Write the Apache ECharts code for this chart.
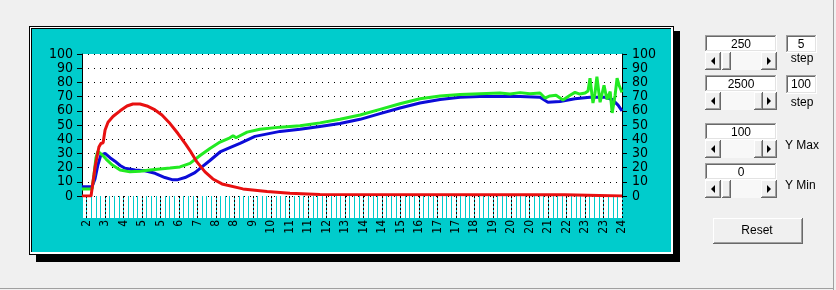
<!DOCTYPE html>
<html><head><meta charset="utf-8">
<script src="https://cdn.jsdelivr.net/npm/echarts@6/dist/echarts.min.js"></script>
<style>html,body{margin:0;padding:0;background:#f0f0f0}#c{width:836px;height:290px}</style>
</head><body><div id="c"></div>
<script>
// ---- data ----
const xLabels = ['2','3','4','5','5','6','7','8','8','9','10','11','11','12','13','14','14','15','16','17','17','18','19','20','20','21','22','23','23','24'];
const yTicks = [0,10,20,30,40,50,60,70,80,90,100];

const redT = [2.06,2.43,2.51,2.59,2.67,2.75,2.83,2.92,3.00,3.12,3.32,3.61,3.89,4.13,4.42,4.70,5.03,5.31,5.64,5.96,6.25,6.45,6.73,7.06,7.38,7.75,8.60,9.58,10.51,11.73,21.68,21.73,24.00];
const redV = [0,0,10,20,27.5,34.5,37,37.5,46.5,52,56,60,63.4,64.8,64.8,63.4,60.6,57,51,44,37,32,24,17,12,8.5,5,3.2,2,1,0.8,0,0];

const blueT = [2.06,2.47,2.59,2.71,2.83,3.00,3.20,3.40,3.61,3.81,4.22,4.62,5.03,5.43,5.72,5.96,6.25,6.65,6.86,7.26,7.67,8.07,8.48,9.09,10.11,10.92,11.73,12.54,13.36,14.17,14.98,15.79,16.61,17.42,18.23,19.04,19.86,20.67,20.99,21.48,22.09,22.70,23.31,23.60,23.84,24.00];
const blueV = [6.5,6.5,12,22,29,30,27,24.5,21.5,19.5,18.3,17.8,16,13,11.5,11.5,13,16.5,19.5,25,31,34,37,42,45.5,47,49,51,54,58,62,65.5,68,69.5,70,70,70,69.5,66,66.5,68.5,69.5,69.5,68,64,60];

const greenT = [2.06,2.47,2.55,2.63,2.71,2.88,3.04,3.28,3.61,4.01,4.42,4.82,5.23,5.64,6.04,6.45,6.86,7.26,7.67,8.07,8.20,8.32,8.77,9.29,10.11,10.92,11.73,12.54,13.36,14.17,14.98,15.79,16.61,17.42,18.23,19.04,19.45,19.86,20.26,20.67,20.87,21.07,21.32,21.60,21.89,22.09,22.29,22.50,22.62,22.70,22.82,22.90,22.98,23.11,23.19,23.27,23.39,23.52,23.60,23.72,23.80,23.88,24.00];
const greenV = [5,5,15,27,31.5,29,26,22,18.3,17,17.5,18.3,19,19.7,20.5,23,28.5,33.5,38,41,42.5,41,45,47,48.5,49.5,51.5,54,57,61,65,68.5,70.5,71.5,72,72.5,71.8,72.8,72,72.5,69,70.5,71,67.6,71,73,71.8,72.5,74,83,65.5,72,84,66,72,78,68,73.5,58.5,71,83,78,73];

// controls text
const ctrlValues = ['250','2500','100','0'];
const stepValues = ['5','100'];

// ---- build ----
const zip = (t,v) => t.map((x,i)=>[x,v[i]]);
const TICKS_PER_LABEL = 4;
const tickCats = [], tickLabelAt = [];
tickCats.push('t0'); tickLabelAt.push('');
xLabels.forEach((l,i)=>{
  tickCats.push('t'+tickCats.length); tickLabelAt.push(l);
  if (i < xLabels.length-1) for (let k=0;k<TICKS_PER_LABEL-1;k++){ tickCats.push('t'+tickCats.length); tickLabelAt.push(''); }
});

const CYAN = '#00cccc';
const G = [];
function rect(x,y,w,h,fill,z){ G.push({type:'rect',shape:{x:x,y:y,width:w,height:h},style:{fill:fill},z:(z===undefined?-10:z),silent:true}); }
function text(t,x,y,align,font){ G.push({type:'text',z:5,silent:true,style:{text:t,x:x,y:y,fill:'#000',font:font||'12px "Liberation Sans", Arial, sans-serif',align:align||'center',verticalAlign:'middle',textAlign:align||'center',textVerticalAlign:'middle'}}); }
function tri(cx,cy,dir){ const p = dir<0 ? [[cx+2,cy-4],[cx+2,cy+4],[cx-2,cy]] : [[cx-2,cy-4],[cx-2,cy+4],[cx+2,cy]]; G.push({type:'polygon',shape:{points:p},style:{fill:'#000'},z:5,silent:true}); }
function raised(x,y,w,h){ rect(x,y,w,h,'#696969',1); rect(x,y,w-1,h-1,'#ffffff',1); rect(x+1,y+1,w-2,h-2,'#a0a0a0',1); rect(x+1,y+1,w-3,h-3,'#f0f0f0',1); }
function sunken(x,y,w,h){ rect(x,y,w,h,'#ffffff',1); rect(x,y,w-1,1,'#a0a0a0',2); rect(x,y,1,h-1,'#a0a0a0',2); rect(x+1,y+1,w-3,1,'#696969',2); rect(x+1,y+1,1,h-3,'#696969',2); rect(x+1,y+h-2,w-2,1,'#e3e3e3',2); rect(x+w-2,y+1,1,h-2,'#e3e3e3',2); }
function scroll(x,y,w,h,thumbX){ rect(x,y,w,h,'#f8f8f8',1); raised(x,y,16,h); raised(x+w-16,y,16,h); raised(thumbX,y,9,h); tri(x+8,y+h/2,-1); tri(x+w-8,y+h/2,1); }

// window / panel
rect(0,0,836,290,'#f0f0f0',-20);
rect(833,0,1,290,'#a0a0a0',-19);
rect(0,288,834,1,'#a0a0a0',-19);
rect(36,31,644,231,'#000000',-15);
rect(29,26,645,229,'#000000',-14);
rect(30,27,643,227,'#ffffff',-13);
rect(31,28,640,224,'#000000',-12);
rect(32,29,639,223,CYAN,-11);
rect(82,196,540,22,'#ffffff',-5);

// controls
const rows = [35,75,123,163];
const thumbs = [722,754,754,722];
rows.forEach((y,i)=>{
  sunken(705,y,72,17);
  scroll(705,y+17,72,18,thumbs[i]);
  text(ctrlValues[i],741,y+10);
});
sunken(786,35,31,18); text(stepValues[0],801,45); text('step',802,59);
sunken(786,75,31,19); text(stepValues[1],801,85); text('step',802,103);
text('Y Max',785,146,'left'); text('Y Min',785,186,'left');
raised(713,218,90,26); text('Reset',757,231);

const yFont = {fontFamily:'"Liberation Sans Narrow","Arial Narrow","DejaVu Sans Condensed",sans-serif',fontSize:14,color:'#000'};

const chart = echarts.init(document.getElementById('c'), null, {renderer:'canvas'});
chart.setOption({
  animation:false,
  backgroundColor:'transparent',
  graphic:{elements:G},
  grid:{left:82,top:54,right:214,bottom:94,show:true,backgroundColor:'#ffffff',borderWidth:0},
  xAxis:[
    {type:'value',min:2.0625,max:24.0,show:false},
    {type:'category',data:tickCats,boundaryGap:false,position:'bottom',
      axisLine:{show:false},
      axisTick:{show:true,interval:0,length:22,lineStyle:{color:CYAN,width:1}},
      axisLabel:{show:true,interval:0,rotate:90,margin:24,fontSize:12,color:'#000',
        fontFamily:'"Liberation Sans Narrow","Arial Narrow","DejaVu Sans Condensed",sans-serif',
        formatter:(v,idx)=>tickLabelAt[idx]||''},
      splitLine:{show:false}},
    {type:'category',data:tickCats,boundaryGap:false,position:'bottom',
      axisLine:{show:false},
      axisTick:{show:true,interval:(idx)=>tickLabelAt[idx]!=='',length:22,lineStyle:{color:'#000',width:1,type:[2,2]}},
      axisLabel:{show:false},splitLine:{show:false}}
  ],
  yAxis:[
    {type:'value',min:yTicks[0],max:yTicks[yTicks.length-1],interval:10,position:'left',
      axisLine:{show:true,lineStyle:{color:'#000',width:1}},
      axisTick:{show:true,length:5,lineStyle:{color:'#000'}},
      axisLabel:Object.assign({margin:9},yFont),
      splitLine:{show:true,lineStyle:{color:'#000',width:1,type:[1,5]}}},
    {type:'value',min:yTicks[0],max:yTicks[yTicks.length-1],interval:10,position:'right',
      axisLine:{show:true,lineStyle:{color:'#000',width:1}},
      axisTick:{show:true,length:5,lineStyle:{color:'#000'}},
      axisLabel:Object.assign({margin:10},yFont),
      splitLine:{show:false}}
  ],
  series:[
    {type:'line',name:'blue',xAxisIndex:0,yAxisIndex:0,data:zip(blueT,blueV),symbol:'none',lineStyle:{color:'#0c0cd8',width:3},z:3},
    {type:'line',name:'green',xAxisIndex:0,yAxisIndex:0,data:zip(greenT,greenV),symbol:'none',lineStyle:{color:'#22ea22',width:3},z:4},
    {type:'line',name:'red',xAxisIndex:0,yAxisIndex:0,data:zip(redT,redV),symbol:'none',lineStyle:{color:'#e81010',width:3},z:5}
  ]
});
</script></body></html>
